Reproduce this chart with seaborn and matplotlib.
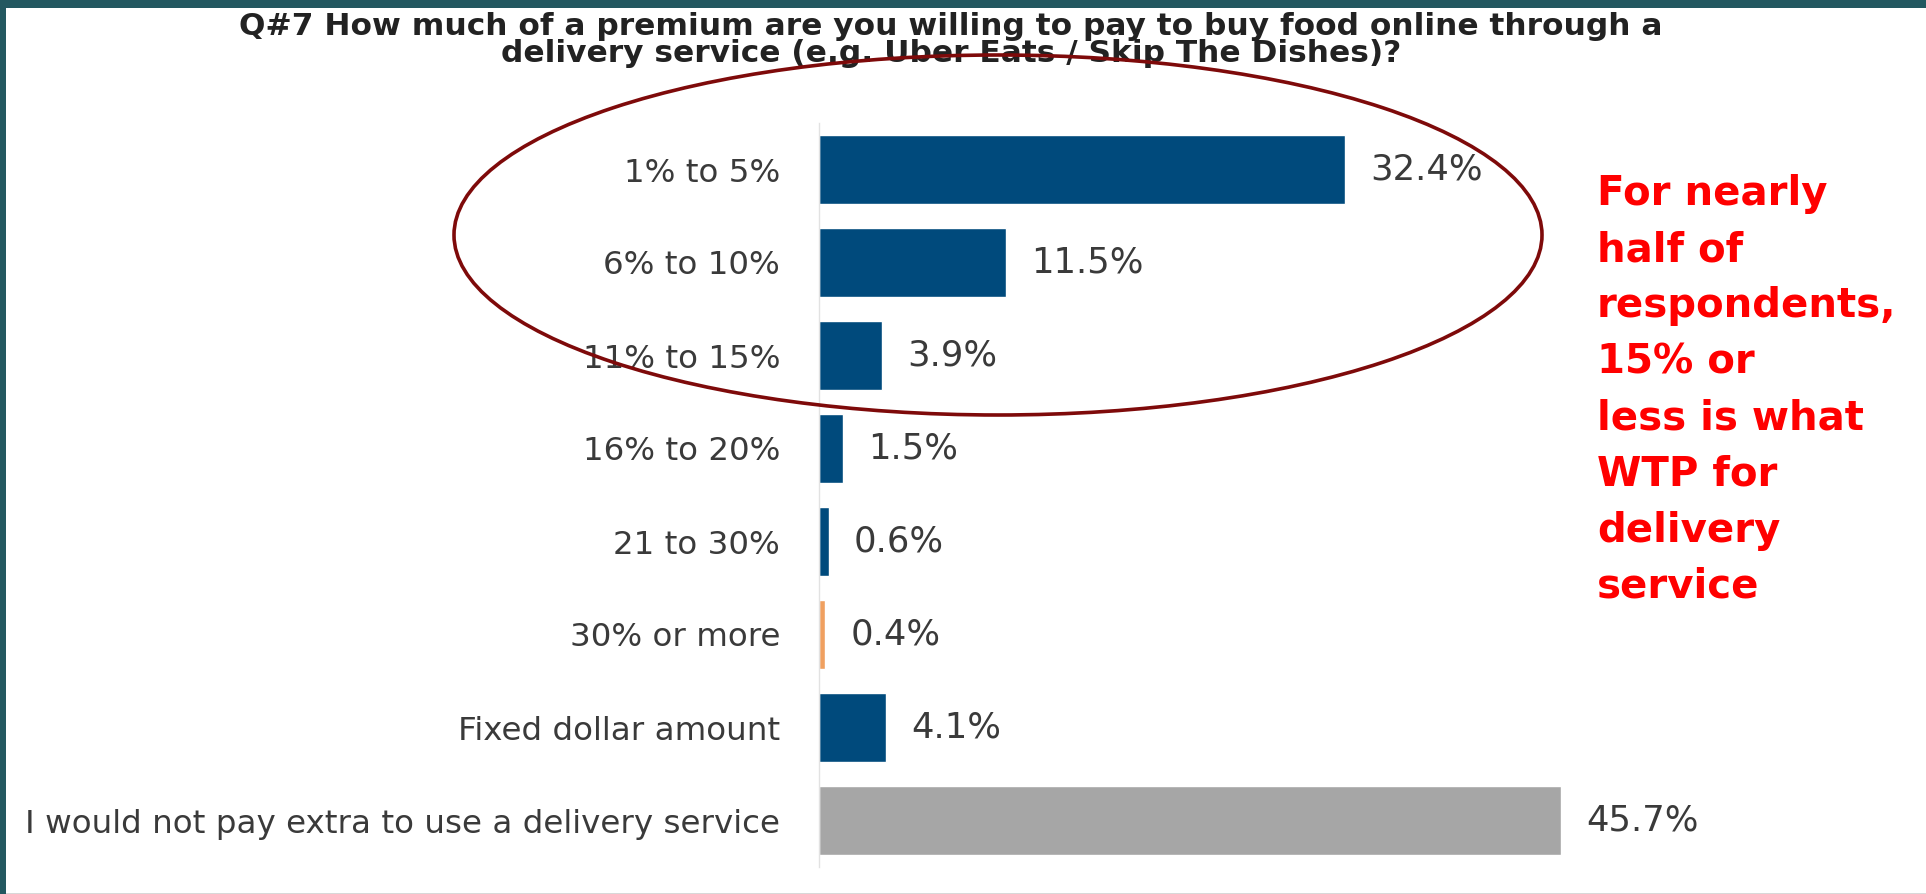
import matplotlib
matplotlib.use("Agg")
import matplotlib.pyplot as plt
from matplotlib.patches import Ellipse, Rectangle
import seaborn as sns
import pandas as pd

# ---- data ----
categories = ["1% to 5%", "6% to 10%", "11% to 15%", "16% to 20%", "21 to 30%",
              "30% or more", "Fixed dollar amount",
              "I would not pay extra to use a delivery service"]
values = [32.4, 11.5, 3.9, 1.5, 0.6, 0.4, 4.1, 45.7]
value_labels = ["32.4%", "11.5%", "3.9%", "1.5%", "0.6%", "0.4%", "4.1%", "45.7%"]
bar_colors = ["#004A7C", "#004A7C", "#004A7C", "#004A7C", "#004A7C",
              "#F0A060", "#004A7C", "#A6A6A6"]
title_text = ("Q#7 How much of a premium are you willing to pay to buy food online through a\n"
              "delivery service (e.g. Uber Eats / Skip The Dishes)?")
note_text = ("For nearly\nhalf of\nrespondents,\n15% or\nless is what\n"
             "WTP for\ndelivery\nservice")

sns.set_theme(style="white")
plt.rcParams["font.family"] = ["DejaVu Sans"]

W, H = 1926, 894
fig = plt.figure(figsize=(W / 100, H / 100), dpi=100)
fig.patch.set_facecolor("#235860")

# white slide area
fig.patches.append(Rectangle((6 / W, 1 / H), (W - 6) / W, (H - 9) / H,
                             transform=fig.transFigure, facecolor="white",
                             edgecolor="none", zorder=-2))
fig.patches.append(Rectangle((6 / W, 0), (W - 6) / W, 1.5 / H,
                             transform=fig.transFigure, facecolor="#D8D8D8",
                             edgecolor="none", zorder=-2))

# axes positioned so that x=0 sits at the bar baseline
px_per_unit = 16.24
ax_left, ax_top, ax_bottom = 819, 123, 867
xmax = 60
ax = fig.add_axes([ax_left / W, (H - ax_bottom) / H,
                   xmax * px_per_unit / W, (ax_bottom - ax_top) / H])
ax.set_facecolor("none")
ax.set_zorder(1)

df = pd.DataFrame({"category": categories, "value": values})
palette = dict(zip(categories, bar_colors))
sns.barplot(data=df, x="value", y="category", hue="category", palette=palette,
            order=categories, hue_order=categories, orient="h", width=0.75,
            saturation=1, legend=False, ax=ax)

ax.set_xlim(0, xmax)
ax.set_ylim(len(categories) - 0.5, -0.5)
ax.set_xlabel("")
ax.set_ylabel("")
ax.set_xticks([])
for s in ["top", "right", "bottom"]:
    ax.spines[s].set_visible(False)
ax.spines["left"].set_color("#E2E2E2")
ax.spines["left"].set_linewidth(1.0)
ax.tick_params(axis="y", length=0, pad=28, labelsize=23.4, labelcolor="#3A3A3A")

for i, (v, lab) in enumerate(zip(values, value_labels)):
    ax.text(v + 1.55, i, lab, va="center", ha="left", fontsize=25.5,
            color="#3A3A3A")

# title
fig.text(951 / W, 1 - 40 / H, title_text, ha="center", va="center",
         fontsize=22.5, fontweight="bold", color="#222222", linespacing=0.88)

# ellipse highlight
fig.patches.append(Ellipse((998 / W, 1 - 235 / H), 1088 / W, 360 / H,
                           transform=fig.transFigure, fill=False,
                           edgecolor="#7E0A0A", linewidth=2.6, zorder=5))

# red annotation
fig.text(1597 / W, 1 - 174 / H, note_text, ha="left", va="top",
         fontsize=29, fontweight="bold", color="#FF0000", linespacing=1.52)

fig.savefig("out.png", dpi=100)
